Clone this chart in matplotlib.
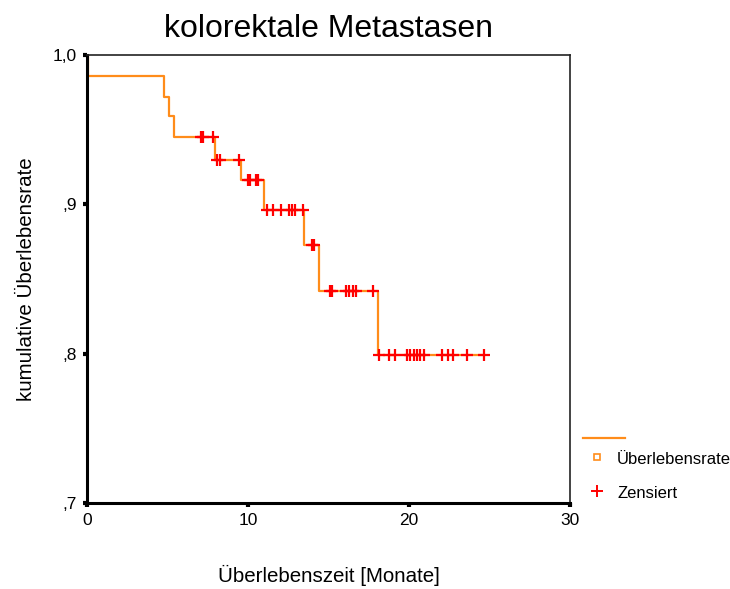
import numpy as np
import matplotlib.pyplot as plt

plt.rcParams['font.family'] = ['Liberation Sans', 'DejaVu Sans']

# Kaplan-Meier steps: event times [months] and survival after each event
event_times = [0.05, 4.8, 5.1, 5.4, 7.95, 9.55, 11.0, 13.5, 14.4, 18.1]
surv_after = [0.986, 0.972, 0.959, 0.945, 0.930, 0.916, 0.896, 0.873, 0.842, 0.799]

# censored observations [months]
censored = [7.1, 7.2, 7.85, 8.05, 8.25, 9.45, 9.98, 10.12, 10.5, 10.62,
            11.16, 11.55, 12.03, 12.57, 12.75, 12.9, 13.43, 13.96, 14.12,
            15.09, 15.2, 16.07, 16.29, 16.5, 16.69, 17.78,
            18.12, 18.78, 19.13, 19.86, 20.06, 20.33, 20.51, 20.68, 20.95,
            22.03, 22.44, 22.75, 23.58, 24.66]

orange = '#ff8c1a'

fig = plt.figure(figsize=(7.3, 5.89), dpi=100)
ax = fig.add_axes([0.119, 0.146, 0.662, 0.7606])

# step curve from 0 to the last observation
t = [0] + event_times + [max(censored)]
s = [1.0] + surv_after + [surv_after[-1]]
ax.step(t, s, where='post', color=orange, lw=1.6, zorder=2)

# censor marks sit on the curve
idx = np.searchsorted(event_times, censored, side='right')
cens_y = [1.0 if i == 0 else surv_after[i - 1] for i in idx]
ax.plot(censored, cens_y, '+', color='red', ms=9, mew=1.6, zorder=3)

ax.set_xlim(0, 30)
ax.set_ylim(0.7, 1.0)
ax.set_xticks([0, 10, 20, 30])
ax.set_yticks([0.7, 0.8, 0.9, 1.0])
ax.set_yticklabels([',7', ',8', ',9', '1,0'])
ax.tick_params(direction='out', length=3, width=3, color='black',
               labelsize=12.5, pad=4)

for side in ['left', 'bottom']:
    ax.spines[side].set_linewidth(2.2)
    ax.spines[side].set_color('black')
for side in ['top', 'right']:
    ax.spines[side].set_linewidth(1.2)
    ax.spines[side].set_color('#222222')

ax.set_title('kolorektale Metastasen', fontsize=23, pad=13)
ax.set_xlabel('Überlebenszeit [Monate]', fontsize=14.8, labelpad=27)
ax.set_ylabel('kumulative Überlebensrate', fontsize=14.8, labelpad=12)

# legend drawn by hand to the right of the plot
fig.add_artist(plt.Line2D([583 / 730, 625 / 730], [1 - 438 / 589] * 2,
                          color=orange, lw=1.6))
fig.add_artist(plt.Line2D([597 / 730], [1 - 457 / 589], marker='s', ms=5,
                          mfc='none', mec=orange, mew=1.2, ls='none'))
fig.text(617 / 730, 1 - 460 / 589, 'Überlebensrate', fontsize=12, va='center')
fig.add_artist(plt.Line2D([597 / 730], [1 - 491 / 589], marker='+', ms=9,
                          color='red', mew=1.4, ls='none'))
fig.text(617 / 730, 1 - 494 / 589, 'Zensiert', fontsize=12, va='center')

fig.savefig('out.png', dpi=100)
